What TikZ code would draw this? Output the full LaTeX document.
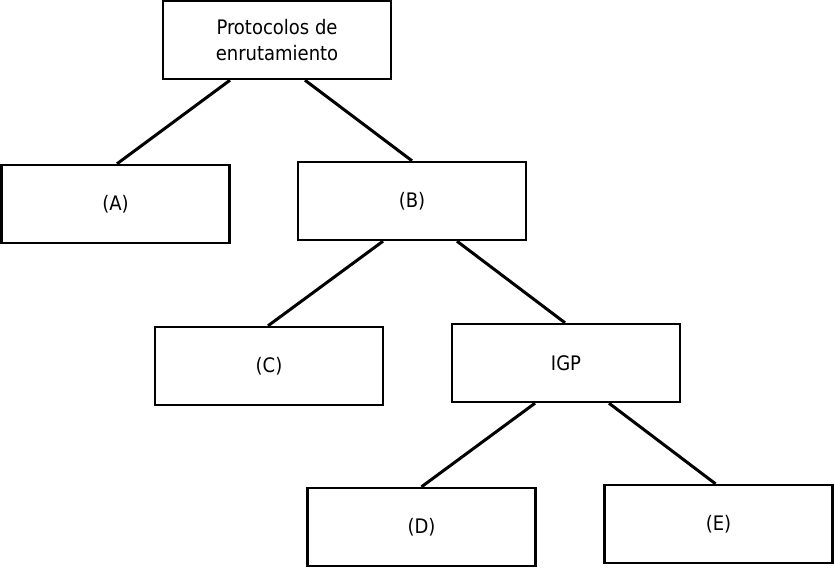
\documentclass[tikz,border=0pt]{standalone}
\usepackage{fontspec}
\setmainfont{DejaVu Sans Condensed}
\usetikzlibrary{calc}
\begin{document}
\begin{tikzpicture}[x=1pt,y=-1pt,
  tbox/.style={draw=black,line width=2.4pt,minimum width=228pt,minimum height=78pt,inner sep=0pt,align=center,font=\fontsize{20}{26}\selectfont},
  edge/.style={draw=black,line width=3pt}]
\useasboundingbox[fill=white] (0,0) rectangle (834,568);
\node[tbox] (top) at (277,40) {Protocolos de\\enrutamiento};
\node[tbox] (a) at (115.5,204) {(A)};
\node[tbox] (b) at (412,201) {(B)};
\node[tbox] (c) at (269,366) {(C)};
\node[tbox] (igp) at (566,363) {IGP};
\node[tbox] (d) at (421.5,527) {(D)};
\node[tbox] (e) at (718.5,524) {(E)};
\draw[edge] ($(top.south)+(-47,0)$) -- ($(a.north)+(1.5,0)$);
\draw[edge] ($(top.south)+(28,0)$) -- (b.north);
\draw[edge] ($(b.south)+(-29,0)$) -- ($(c.north)+(-1,0)$);
\draw[edge] ($(b.south)+(45,0)$) -- ($(igp.north)+(-1,0)$);
\draw[edge] ($(igp.south)+(-31,0)$) -- (d.north);
\draw[edge] ($(igp.south)+(43,0)$) -- ($(e.north)+(-3,0)$);
\end{tikzpicture}
\end{document}
